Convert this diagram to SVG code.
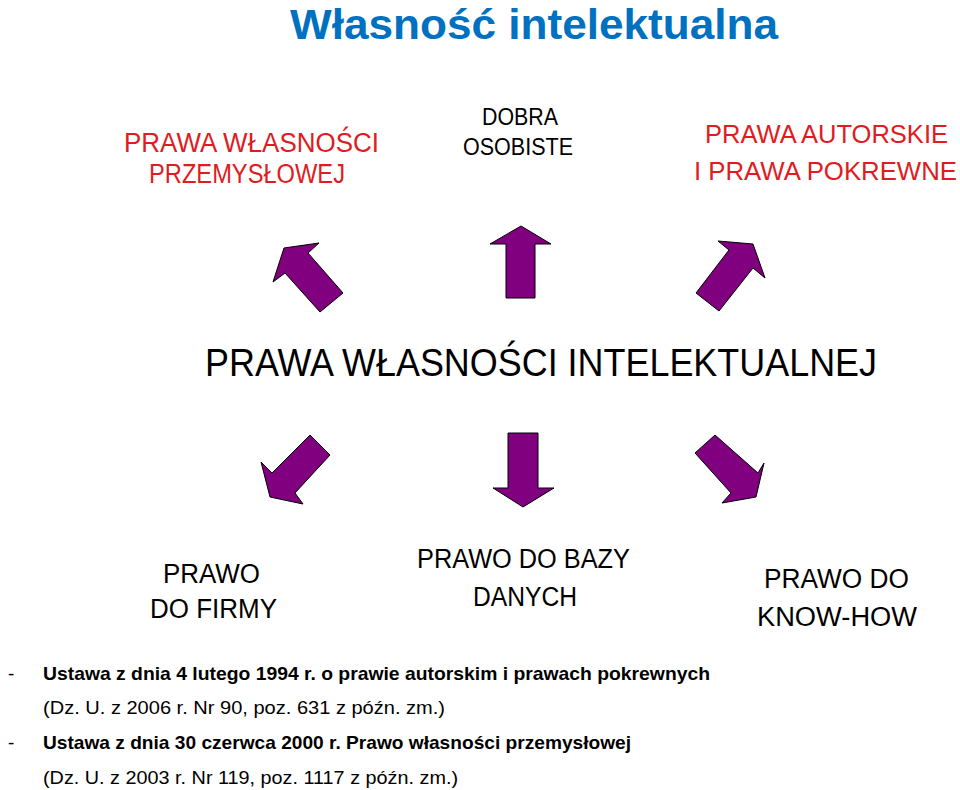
<svg xmlns="http://www.w3.org/2000/svg" width="960" height="790" viewBox="0 0 960 790">
<style>
text{font-family:"Liberation Sans","Open Sans",sans-serif}
.title{font-size:42px;font-weight:bold;fill:#0070C0}
.red{font-size:27px;fill:#E01B22}
.red2{font-size:25px;fill:#E01B22}
.blk{font-size:24px;fill:#000}
.mid{font-size:38px;fill:#000}
.lbl{font-size:27px;fill:#000}
.law{font-size:19px;fill:#000}
.b{font-weight:bold}
.arrow{fill:#800080;stroke:#000;stroke-width:1;stroke-linejoin:miter}
</style>
<rect width="960" height="790" fill="#fff"/>
<g id="title"><text class="title" x="290" y="39" textLength="488" lengthAdjust="spacingAndGlyphs">Własność intelektualna</text></g>
<g id="node-przemyslowej">
<text class="red" x="124" y="152" textLength="255" lengthAdjust="spacingAndGlyphs">PRAWA WŁASNOŚCI</text>
<text class="red" x="149" y="183" textLength="196" lengthAdjust="spacingAndGlyphs">PRZEMYSŁOWEJ</text>
</g>
<g id="node-dobra">
<text class="blk" x="482" y="125" textLength="76" lengthAdjust="spacingAndGlyphs">DOBRA</text>
<text class="blk" x="463" y="155" textLength="110" lengthAdjust="spacingAndGlyphs">OSOBISTE</text>
</g>
<g id="node-autorskie">
<text class="red2" x="705" y="143" textLength="243" lengthAdjust="spacingAndGlyphs">PRAWA AUTORSKIE</text>
<text class="red2" x="694" y="180" textLength="263" lengthAdjust="spacingAndGlyphs">I PRAWA POKREWNE</text>
</g>
<g id="node-center">
<text class="mid" x="205" y="376" textLength="672" lengthAdjust="spacingAndGlyphs">PRAWA WŁASNOŚCI INTELEKTUALNEJ</text>
</g>
<g id="node-firma">
<text class="lbl" x="163" y="583" textLength="97" lengthAdjust="spacingAndGlyphs">PRAWO</text>
<text class="lbl" x="150" y="618" textLength="127" lengthAdjust="spacingAndGlyphs">DO FIRMY</text>
</g>
<g id="node-bazy">
<text class="lbl" x="417" y="568" textLength="213" lengthAdjust="spacingAndGlyphs">PRAWO DO BAZY</text>
<text class="lbl" x="473" y="606" textLength="104" lengthAdjust="spacingAndGlyphs">DANYCH</text>
</g>
<g id="node-knowhow">
<text class="lbl" x="764" y="588" textLength="145" lengthAdjust="spacingAndGlyphs">PRAWO DO</text>
<text class="lbl" x="757" y="626" textLength="160" lengthAdjust="spacingAndGlyphs">KNOW-HOW</text>
</g>
<g id="connectors">
<polygon class="arrow" points="284,248 319,243 308,253 343,293 320,312 285,273 273,282"/>
<polygon class="arrow" points="521,226 551,244 535,244 535,298 506,298 506,244 490,244"/>
<polygon class="arrow" points="753,244 765,278 753,268 719,311 696,293 729,250 718,241"/>
<polygon class="arrow" points="270,497 303,504 295,493 330,455 310,435 272,473 261,462"/>
<polygon class="arrow" points="508,433 538,433 538,488 554,488 523,507 493,488 508,488"/>
<polygon class="arrow" points="695,453 715,435 758,473 764,463 756,497 722,503 731,493"/>
</g>
<g id="laws">
<text class="law" x="8" y="680">-</text>
<text class="law b" x="43" y="680" textLength="667" lengthAdjust="spacingAndGlyphs">Ustawa z dnia 4 lutego 1994 r. o prawie autorskim i prawach pokrewnych</text>
<text class="law" x="43" y="714" textLength="402" lengthAdjust="spacingAndGlyphs">(Dz. U. z 2006 r. Nr 90, poz. 631 z późn. zm.)</text>
<text class="law" x="8" y="749">-</text>
<text class="law b" x="43" y="749" textLength="588" lengthAdjust="spacingAndGlyphs">Ustawa z dnia 30 czerwca 2000 r. Prawo własności przemysłowej</text>
<text class="law" x="43" y="784" textLength="415" lengthAdjust="spacingAndGlyphs">(Dz. U. z 2003 r. Nr 119, poz. 1117 z późn. zm.)</text>
</g>
</svg>
